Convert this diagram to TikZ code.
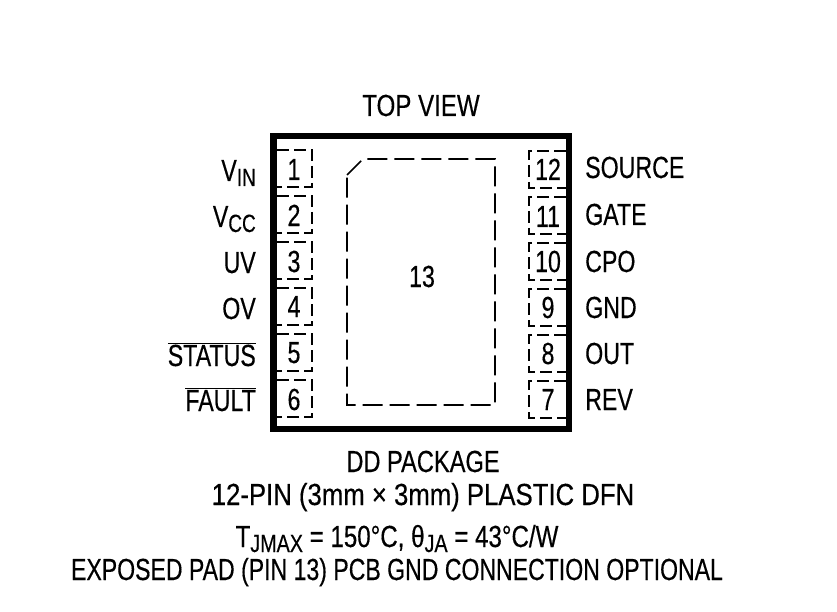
\documentclass[tikz,border=0pt]{standalone}
\usepackage{graphicx}
\usepackage{fontspec}
\setmainfont[FakeStretch=0.76,FakeBold=0.35]{Liberation Sans}
\usetikzlibrary{positioning}
\newcommand{\lowsub}[1]{\raisebox{-5pt}{\fontsize{25}{25}\selectfont #1}}
\newcommand{\barred}[1]{$\overline{\mbox{#1}}$}
\tikzstyle{tS}=[inner sep = 0pt, font=\fontsize{30.5}{30.5}\selectfont, anchor=base]
\tikzstyle{nL}=[tS, anchor=base east]
\tikzstyle{nR}=[tS, anchor=base west]
\tikzstyle{ePkg}=[line width=6.5pt, draw=black]
\tikzstyle{ePin}=[line width=1.7pt, dash pattern=on 12pt off 5pt]
\tikzstyle{ePad}=[line width=1.7pt, dash pattern=on 20pt off 7pt]
\begin{document}
\begin{tikzpicture}[x=1pt, y=-1pt]%[x=1 cm, y=1 cm]
                \useasboundingbox (0,0) rectangle (837,612);
                \draw[ePkg] (273.5,136) rectangle (569,429);
                \draw[ePad] (347,175) -- (363,159) -- (495,159) -- (495,405) -- (347,405) -- cycle;
                % left pins
                \draw[ePin] (277,150) -- (312,150) -- (312,187) -- (277,187);
                \draw[ePin] (277,196) -- (312,196) -- (312,233) -- (277,233);
                \draw[ePin] (277,242) -- (312,242) -- (312,279) -- (277,279);
                \draw[ePin] (277,288) -- (312,288) -- (312,325) -- (277,325);
                \draw[ePin] (277,334) -- (312,334) -- (312,371) -- (277,371);
                \draw[ePin] (277,380) -- (312,380) -- (312,417) -- (277,417);
                % right pins
                \draw[ePin] (566,151) -- (529,151) -- (529,188) -- (566,188);
                \draw[ePin] (566,197) -- (529,197) -- (529,234) -- (566,234);
                \draw[ePin] (566,243) -- (529,243) -- (529,280) -- (566,280);
                \draw[ePin] (566,289) -- (529,289) -- (529,326) -- (566,326);
                \draw[ePin] (566,335) -- (529,335) -- (529,372) -- (566,372);
                \draw[ePin] (566,381) -- (529,381) -- (529,418) -- (566,418);
                \draw (294,180) node[tS] (n1) {1};
                \draw (294,226) node[tS] (n2) {2};
                \draw (294,272) node[tS] (n3) {3};
                \draw (294,317) node[tS] (n4) {4};
                \draw (294,363) node[tS] (n5) {5};
                \draw (294,410) node[tS] (n6) {6};
                \draw (548,410) node[tS] (n7) {7};
                \draw (548,364) node[tS] (n8) {8};
                \draw (548,318) node[tS] (n9) {9};
                \draw (548,272) node[tS] (n10) {10};
                \draw (548,227) node[tS] (n11) {11};
                \draw (548,180) node[tS] (n12) {12};
                \draw (422,287) node[tS] (n13) {13};
                \draw (256,181) node[nL] (lVin) {V\lowsub{IN}};
                \draw (256,227) node[nL] (lVcc) {V\lowsub{CC}};
                \draw (256,273) node[nL] (lUv) {UV};
                \draw (256,319) node[nL] (lOv) {OV};
                \draw (256,366) node[nL] (lStatus) {\barred{STATUS}};
                \draw (256,411) node[nL] (lFault) {\barred{FAULT}};
                \draw (585,178) node[nR] (lSource) {SOURCE};
                \draw (585,225) node[nR] (lGate) {GATE};
                \draw (585,272) node[nR] (lCpo) {CPO};
                \draw (585,318) node[nR] (lGnd) {GND};
                \draw (585,364) node[nR] (lOut) {OUT};
                \draw (585,410) node[nR] (lRev) {REV};
                \draw (421,116) node[tS] (top) {\scalebox{1.04}[1]{TOP VIEW}};
                \draw (423,472) node[tS] (pkg) {\scalebox{1.02}[1]{DD PACKAGE}};
                \draw (423,505) node[tS] (pin) {\scalebox{1.11}[1]{12-PIN (3mm × 3mm) PLASTIC DFN}};
                \draw (397,547) node[tS] (therm) {\scalebox{1.04}[1]{T\lowsub{JMAX} = 150°C, θ\lowsub{JA} = 43°C/W}};
                \draw (397,580) node[tS] (pad) {\scalebox{0.995}[1]{EXPOSED PAD (PIN 13) PCB GND CONNECTION OPTIONAL}};
        \end{tikzpicture}
\end{document}
